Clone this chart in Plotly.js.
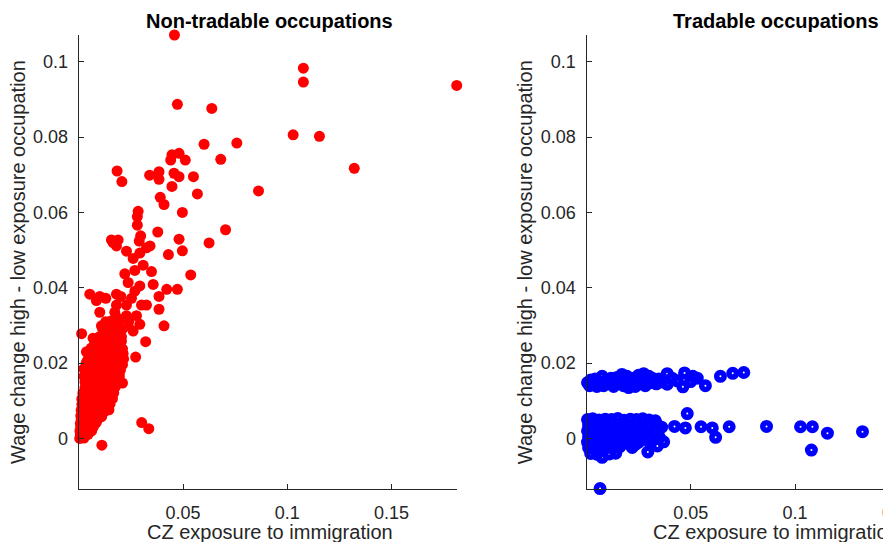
<!DOCTYPE html>
<html>
<head>
<meta charset="utf-8">
<script src="https://cdn.plot.ly/plotly-3.0.1.min.js"></script>
<style>
  html, body { margin: 0; padding: 0; overflow: hidden; background: #fff; }
  #chart { width: 1000px; height: 542px; }
</style>
</head>
<body>
<div id="chart"></div>
<script>
// ---------- Data ----------
const panelTitles = ["Non-tradable occupations", "Tradable occupations"];
const xAxisTitle = "CZ exposure to immigration";
const yAxisTitle = "Wage change high - low exposure occupation";
const xTickVals = [0.05, 0.1, 0.15];
const yTickVals = [0, 0.02, 0.04, 0.06, 0.08, 0.1];

// Non-tradable occupations (red)
const nonTradX = [
  0.0459, 0.1077, 0.1077, 0.1812, 0.0473, 0.0638, 0.1028, 0.1154, 0.0601, 0.0758,
  0.1321, 0.0681, 0.0862, 0.0481, 0.0447, 0.0441, 0.0511, 0.0184, 0.0207, 0.0340,
  0.0385, 0.0385, 0.0457, 0.0481, 0.0550, 0.0447, 0.0569, 0.0391, 0.0409, 0.0497,
  0.0704, 0.0625, 0.0481, 0.0497, 0.0379, 0.0430, 0.0537, 0.0473, 0.0422, 0.0385,
  0.0385, 0.0409, 0.0357, 0.0349, 0.0302, 0.0336, 0.0111, 0.0321, 0.0273, 0.0014,
  0.0285, 0.0281, 0.0281, 0.0297, 0.0290, 0.0165, 0.0157, 0.0189, 0.0181, 0.0325,
  0.0342, 0.0229, 0.0261, 0.0293, 0.0309, 0.0269, 0.0221, 0.0237, 0.0293, 0.0269,
  0.0181, 0.0202, 0.0053, 0.0101, 0.0130, 0.0085, 0.0101, 0.0253, 0.0229, 0.0301,
  0.0325, 0.0277, 0.0293, 0.0261, 0.0181, 0.0173, 0.0197, 0.0229, 0.0237, 0.0189,
  0.0109, 0.0133, 0.0069, 0.0149, 0.0197, 0.0213, 0.0037, 0.0037, 0.0085, 0.0165,
  0.0189, 0.0210, 0.0149, 0.0149, 0.0125, 0.0085,
  // dense cluster near the origin
  0.0005, 0.0015, 0.0025,
  0.0008, 0.0020, 0.0035, 0.0045,
  0.0006, 0.0020, 0.0035, 0.0050, 0.0062,
  0.0010, 0.0025, 0.0040, 0.0055, 0.0070,
  0.0008, 0.0022, 0.0038, 0.0055, 0.0070, 0.0085,
  0.0012, 0.0030, 0.0048, 0.0065, 0.0080, 0.0095,
  0.0010, 0.0028, 0.0045, 0.0062, 0.0080, 0.0098, 0.0110,
  0.0012, 0.0030, 0.0050, 0.0070, 0.0090, 0.0110, 0.0128, 0.0145,
  0.0015, 0.0035, 0.0055, 0.0075, 0.0095, 0.0115, 0.0135, 0.0150,
  0.0015, 0.0035, 0.0058, 0.0080, 0.0100, 0.0120, 0.0140, 0.0162,
  0.0020, 0.0040, 0.0060, 0.0085, 0.0105, 0.0125, 0.0145, 0.0168,
  0.0030, 0.0050, 0.0070, 0.0090, 0.0110, 0.0130, 0.0150, 0.0175,
  0.0030, 0.0055, 0.0078, 0.0100, 0.0120, 0.0142, 0.0165, 0.0190,
  0.0025, 0.0060, 0.0080, 0.0105, 0.0128, 0.0150, 0.0172, 0.0195,
  0.0025, 0.0065, 0.0090, 0.0110, 0.0135, 0.0158, 0.0180, 0.0200,
  0.0040, 0.0068, 0.0092, 0.0118, 0.0140, 0.0162, 0.0185, 0.0210,
  0.0045, 0.0070, 0.0095, 0.0120, 0.0145, 0.0170, 0.0195, 0.0215,
  0.0050, 0.0078, 0.0100, 0.0125, 0.0150, 0.0175, 0.0200,
  0.0060, 0.0085, 0.0110, 0.0135, 0.0160, 0.0185, 0.0210,
  0.0080, 0.0105, 0.0130, 0.0155, 0.0180, 0.0205,
  0.0100, 0.0125, 0.0150, 0.0175, 0.0205,
  0.0115, 0.0140, 0.0165, 0.0210,
  0.0130, 0.0155, 0.0185, 0.0240
];
const nonTradY = [
  0.1071, 0.0983, 0.0946, 0.0937, 0.0887, 0.0876, 0.0806, 0.0802, 0.0781, 0.0784,
  0.0717, 0.0741, 0.0657, 0.0757, 0.0753, 0.0739, 0.0739, 0.0710, 0.0682, 0.0699,
  0.0708, 0.0688, 0.0704, 0.0695, 0.0695, 0.0669, 0.0649, 0.0640, 0.0621, 0.0600,
  0.0554, 0.0519, 0.0529, 0.0498, 0.0548, 0.0488, 0.0434, 0.0396, 0.0396, 0.0377,
  0.0343, 0.0299, 0.0409, 0.0443, 0.0042, 0.0026, -0.0018, 0.0257, 0.0216, 0.0278,
  0.0603, 0.0589, 0.0566, 0.0538, 0.0524, 0.0520, 0.0527, 0.0527, 0.0511, 0.0506,
  0.0511, 0.0497, 0.0478, 0.0492, 0.0460, 0.0446, 0.0437, 0.0414, 0.0405, 0.0391,
  0.0383, 0.0377, 0.0383, 0.0377, 0.0372, 0.0366, 0.0335, 0.0372, 0.0354, 0.0354,
  0.0354, 0.0326, 0.0303, 0.0285, 0.0354, 0.0335, 0.0317, 0.0326, 0.0299, 0.0285,
  0.0299, 0.0285, 0.0266, 0.0257, 0.0243, 0.0225, 0.0230, 0.0202, 0.0216, 0.0206,
  0.0174, 0.0147, 0.0150, 0.0096, 0.0073, 0.0144,
  // dense cluster near the origin
  0.0000, 0.0002, 0.0001,
  0.0010, 0.0012, 0.0009, 0.0011,
  0.0020, 0.0021, 0.0019, 0.0022, 0.0020,
  0.0030, 0.0031, 0.0029, 0.0032, 0.0030,
  0.0040, 0.0042, 0.0039, 0.0041, 0.0040, 0.0043,
  0.0050, 0.0052, 0.0049, 0.0051, 0.0050, 0.0053,
  0.0060, 0.0062, 0.0059, 0.0061, 0.0060, 0.0063, 0.0058,
  0.0075, 0.0077, 0.0074, 0.0076, 0.0075, 0.0078, 0.0073, 0.0076,
  0.0090, 0.0092, 0.0089, 0.0091, 0.0090, 0.0093, 0.0088, 0.0091,
  0.0105, 0.0107, 0.0104, 0.0106, 0.0105, 0.0108, 0.0103, 0.0106,
  0.0120, 0.0122, 0.0119, 0.0121, 0.0120, 0.0123, 0.0118, 0.0121,
  0.0135, 0.0137, 0.0134, 0.0136, 0.0135, 0.0138, 0.0133, 0.0136,
  0.0150, 0.0152, 0.0149, 0.0151, 0.0150, 0.0153, 0.0148, 0.0151,
  0.0165, 0.0167, 0.0164, 0.0166, 0.0165, 0.0168, 0.0163, 0.0166,
  0.0185, 0.0182, 0.0179, 0.0181, 0.0180, 0.0183, 0.0178, 0.0181,
  0.0195, 0.0197, 0.0194, 0.0196, 0.0195, 0.0198, 0.0193, 0.0196,
  0.0210, 0.0212, 0.0209, 0.0211, 0.0210, 0.0213, 0.0208, 0.0211,
  0.0225, 0.0227, 0.0224, 0.0226, 0.0225, 0.0228, 0.0223,
  0.0240, 0.0242, 0.0239, 0.0241, 0.0240, 0.0243, 0.0238,
  0.0255, 0.0257, 0.0254, 0.0256, 0.0255, 0.0258,
  0.0270, 0.0272, 0.0269, 0.0271, 0.0270,
  0.0290, 0.0292, 0.0289, 0.0291,
  0.0310, 0.0312, 0.0309, 0.0311
];

// Tradable occupations (blue)
const tradX = [
  // upper band
  0.0005, 0.0015, 0.0020, 0.0030, 0.0042, 0.0050, 0.0066, 0.0075, 0.0082, 0.0095,
  0.0106, 0.0118, 0.0130, 0.0138, 0.0146, 0.0158, 0.0170, 0.0178, 0.0186, 0.0194,
  0.0202, 0.0210, 0.0226, 0.0234, 0.0242, 0.0250, 0.0258, 0.0266, 0.0274, 0.0282,
  0.0291, 0.0299, 0.0307, 0.0315, 0.0323, 0.0335, 0.0347, 0.0363, 0.0387, 0.0387,
  0.0410, 0.0435, 0.0462, 0.0470, 0.0499, 0.0510, 0.0531, 0.0570, 0.0642, 0.0701,
  0.0754,
  // lower cluster
  0.0005, 0.0030, 0.0060, 0.0090, 0.0120, 0.0150, 0.0180, 0.0210, 0.0240, 0.0270, 0.0300, 0.0330,
  0.0010, 0.0040, 0.0070, 0.0100, 0.0130, 0.0160, 0.0190, 0.0220, 0.0250, 0.0280, 0.0310, 0.0340, 0.0360,
  0.0005, 0.0030, 0.0060, 0.0090, 0.0120, 0.0150, 0.0180, 0.0210, 0.0240, 0.0270, 0.0300, 0.0330,
  0.0010, 0.0040, 0.0070, 0.0100, 0.0130, 0.0160, 0.0190, 0.0220, 0.0250, 0.0280, 0.0310, 0.0350,
  0.0005, 0.0030, 0.0060, 0.0090, 0.0120, 0.0150, 0.0180, 0.0210, 0.0250, 0.0300, 0.0370,
  0.0010, 0.0040, 0.0070, 0.0100, 0.0130, 0.0160, 0.0219, 0.0340,
  0.0020, 0.0050, 0.0075, 0.0110, 0.0140, 0.0236, 0.0294,
  // outliers
  0.0483, 0.0422, 0.0474, 0.0549, 0.0603, 0.0619, 0.0684, 0.0863, 0.1026, 0.1083,
  0.1155, 0.1323, 0.1078, 0.0065
];
const tradY = [
  // upper band
  0.0148, 0.0140, 0.0155, 0.0145, 0.0158, 0.0138, 0.0150, 0.0165, 0.0140, 0.0155,
  0.0145, 0.0160, 0.0138, 0.0152, 0.0162, 0.0145, 0.0170, 0.0140, 0.0156, 0.0165,
  0.0135, 0.0150, 0.0160, 0.0138, 0.0152, 0.0168, 0.0145, 0.0158, 0.0172, 0.0140,
  0.0155, 0.0165, 0.0148, 0.0160, 0.0152, 0.0145, 0.0158, 0.0150, 0.0172, 0.0144,
  0.0160, 0.0153, 0.0137, 0.0174, 0.0151, 0.0165, 0.0160, 0.0140, 0.0165, 0.0173,
  0.0175,
  // lower cluster
  0.0050, 0.0052, 0.0049, 0.0051, 0.0050, 0.0053, 0.0048, 0.0051, 0.0050, 0.0052, 0.0049, 0.0047,
  0.0035, 0.0037, 0.0034, 0.0036, 0.0035, 0.0038, 0.0033, 0.0036, 0.0035, 0.0037, 0.0034, 0.0036, 0.0030,
  0.0020, 0.0022, 0.0019, 0.0021, 0.0020, 0.0023, 0.0018, 0.0021, 0.0020, 0.0022, 0.0019, 0.0015,
  0.0005, 0.0007, 0.0004, 0.0006, 0.0005, 0.0008, 0.0003, 0.0006, 0.0005, 0.0007, 0.0004, 0.0002,
  -0.0010, -0.0008, -0.0011, -0.0009, -0.0010, -0.0007, -0.0012, -0.0009, -0.0010, -0.0008, -0.0009,
  -0.0025, -0.0023, -0.0026, -0.0024, -0.0025, -0.0022, -0.0024, -0.0020,
  -0.0040, -0.0042, -0.0050, -0.0041, -0.0039, -0.0015, -0.0036,
  // outliers
  0.0066, 0.0032, 0.0028, 0.0031, 0.0028, 0.0003, 0.0031, 0.0032, 0.0031, 0.0031,
  0.0014, 0.0018, -0.0031, -0.0133
];

// ---------- Chart ----------
const W = 1000, H = 542;
const FONT = "Liberation Sans, Arial, Helvetica, sans-serif";
const AX = "#262626";

const traces = [
  {
    x: nonTradX, y: nonTradY, type: "scatter", mode: "markers",
    xaxis: "x", yaxis: "y", cliponaxis: false, hoverinfo: "skip",
    marker: { symbol: "circle", size: 11, color: "#ff0000", line: { width: 0 } }
  },
  {
    x: tradX, y: tradY, type: "scatter", mode: "markers",
    xaxis: "x2", yaxis: "y2", cliponaxis: false, hoverinfo: "skip",
    marker: { symbol: "circle-open", size: 7.5, color: "#0000ff", line: { width: 5.5, color: "#0000ff" } }
  }
];

function xAxis(domain) {
  return {
    domain: domain, range: [0, 0.1812], tickvals: xTickVals,
    showline: true, linecolor: AX, linewidth: 1, ticks: "inside", ticklen: 5, tickcolor: AX,
    tickfont: { family: FONT, size: 18, color: AX }, showgrid: false, zeroline: false,
    ticklabelstandoff: 7,
    title: { text: "" },
    automargin: false, fixedrange: true
  };
}
function yAxis(anchor) {
  return {
    domain: [52.7 / H, (H - 35) / H], range: [-0.0135, 0.1071], tickvals: yTickVals,
    anchor: anchor,
    showline: true, linecolor: AX, linewidth: 1, ticks: "inside", ticklen: 5, tickcolor: AX,
    tickfont: { family: FONT, size: 18, color: AX }, showgrid: false, zeroline: false,
    ticklabelstandoff: 6,
    title: { text: yAxisTitle, font: { family: FONT, size: 20, color: AX }, standoff: 2 },
    automargin: false, fixedrange: true
  };
}

function xTitleAnn(xCenter) {
  return { text: xAxisTitle, xref: "paper", yref: "paper",
    x: xCenter / W, y: (H - 531.5) / H, xanchor: "center", yanchor: "middle", showarrow: false,
    font: { family: FONT, size: 20, color: AX } };
}

const layout = {
  width: W, height: H,
  margin: { l: 0, r: 0, t: 0, b: 0 },
  paper_bgcolor: "#ffffff", plot_bgcolor: "#ffffff",
  showlegend: false,
  font: { family: FONT, color: AX },
  xaxis: xAxis([78.7 / W, 456.7 / W]),
  yaxis: yAxis("x"),
  xaxis2: Object.assign(xAxis([586.5 / W, 964.5 / W]), { anchor: "y2" }),
  yaxis2: Object.assign(yAxis("x2"), {}),
  annotations: [
    { text: "<b>" + panelTitles[0] + "</b>", xref: "paper", yref: "paper",
      x: 269.5 / W, y: (H - 21) / H, xanchor: "center", yanchor: "middle", showarrow: false,
      font: { family: FONT, size: 20, color: "#000000" } },
    { text: "<b>" + panelTitles[1] + "</b>", xref: "paper", yref: "paper",
      x: 775.5 / W, y: (H - 21) / H, xanchor: "center", yanchor: "middle", showarrow: false,
      font: { family: FONT, size: 20, color: "#000000" } },
    xTitleAnn(270),
    xTitleAnn(776)
  ],
  hovermode: false
};

Plotly.newPlot("chart", traces, layout, { displayModeBar: false, staticPlot: true });
</script>
</body>
</html>
